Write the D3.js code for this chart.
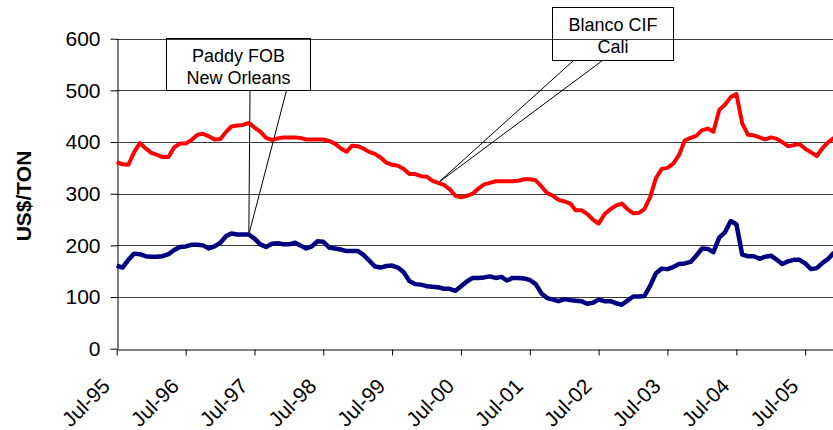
<!DOCTYPE html>
<html>
<head>
<meta charset="utf-8">
<script src="https://cdn.jsdelivr.net/npm/d3@7"></script>
<style>
  html, body { margin: 0; padding: 0; background: #fff; }
  svg { display: block; }
  text { font-family: "Liberation Sans", Arial, sans-serif; fill: #000; }
</style>
</head>
<body>
<svg id="chart" width="833" height="430"></svg>
<script>
// ---- data (monthly, Jul-95 .. Dec-05) ----
const startMonth = "1995-07";
const endMonth = "2005-12";
const blancoCIFCali = [
  361,357,356,380,398,388,379,375,371,371,390,397,
  397,404,414,416,411,405,406,420,430,432,433,437,
  428,420,408,404,407,409,409,409,408,405,405,405,
  405,402,397,388,381,393,392,387,381,377,370,360,
  356,354,348,338,338,334,333,325,321,317,309,296,
  293,296,300,310,318,321,324,324,324,324,325,328,
  328,326,314,301,296,288,285,281,268,268,261,250,
  242,260,270,277,281,270,262,263,270,294,330,348,
  350,358,375,403,408,412,423,426,420,462,472,487,
  493,436,414,413,409,405,409,406,400,392,394,396,
  387,380,373,388,400,408
];
const paddyFOBNewOrleans = [
  161,157,172,184,183,179,178,178,179,183,191,197,
  198,201,201,200,194,198,205,218,223,221,221,221,
  213,202,197,203,204,202,202,205,200,194,198,208,
  207,196,194,192,189,189,189,181,171,159,157,160,
  161,157,148,131,125,124,121,120,119,116,116,112,
  121,130,137,137,138,140,137,139,132,137,137,136,
  133,125,107,98,95,92,96,94,93,92,87,89,
  95,92,92,88,85,93,101,101,102,122,146,155,
  154,158,164,165,168,180,194,193,187,215,225,247,
  241,182,179,179,174,178,180,172,164,169,172,172,
  165,154,156,166,174,186
];
const xTickLabels = ["Jul-95","Jul-96","Jul-97","Jul-98","Jul-99","Jul-00","Jul-01","Jul-02","Jul-03","Jul-04","Jul-05"];
const yTicks = [0,100,200,300,400,500,600];
const seriesNames = ["Paddy FOB|New Orleans", "Blanco CIF|Cali"];
// callout targets: index of month pointed at
const paddyPointIndex = 23;
const blancoPointIndex = 56;

(function () {
// ---- build ----
const parseMonth = d3.timeParse("%Y-%m");
const months = d3.timeMonth.range(parseMonth(startMonth), d3.timeMonth.offset(parseMonth(endMonth), 1));
const parseTick = d3.timeParse("%b-%y");

const svg = d3.select("#chart");
const mLeft = 116.7, mRight = 834, mTop = 38.7, mBottom = 348.7;

const x = d3.scaleTime().domain([months[0], months[months.length - 1]]).range([mLeft, mRight]);
const y = d3.scaleLinear().domain([0, 600]).range([mBottom, mTop]);

// gridlines
svg.append("g").selectAll("line").data(yTicks.filter(d => d > 0)).join("line")
  .attr("x1", mLeft).attr("x2", mRight)
  .attr("y1", d => Math.round(y(d)) + 0.5).attr("y2", d => Math.round(y(d)) + 0.5)
  .attr("stroke", "#3a3a3a").attr("stroke-width", 1);

// y axis
const yAxis = svg.append("g")
  .attr("transform", `translate(${Math.round(mLeft) + 0.5},0)`)
  .call(d3.axisLeft(y).tickValues(yTicks).tickSize(7).tickSizeOuter(0).tickPadding(10));
yAxis.select(".domain").attr("stroke", "#000");
yAxis.selectAll(".tick line").attr("stroke", "#000");
yAxis.selectAll(".tick text")
  .style("font-family", '"Liberation Sans", Arial, sans-serif')
  .style("font-size", "21px").attr("fill", "#000");

// x axis
const xAxis = svg.append("g")
  .attr("transform", `translate(0,${Math.round(mBottom) + 0.5})`)
  .call(d3.axisBottom(x).tickValues(xTickLabels.map(parseTick)).tickSize(6).tickSizeOuter(0)
    .tickFormat(d3.timeFormat("%b-%y")));
xAxis.select(".domain").attr("stroke", "#000");
xAxis.selectAll(".tick line").attr("stroke", "#000");
xAxis.selectAll(".tick text")
  .style("font-family", '"Liberation Sans", Arial, sans-serif')
  .style("font-size", "21px").attr("fill", "#000")
  .attr("text-anchor", "end")
  .attr("x", 0).attr("y", 0).attr("dy", 0)
  .attr("transform", "translate(-6,38) rotate(-45)");

// y label
svg.append("text")
  .attr("transform", "translate(31,196) rotate(-90)")
  .attr("text-anchor", "middle")
  .style("font-size", "21px").style("font-weight", "bold")
  .text("US$/TON");

// callouts
const callouts = svg.append("g").attr("fill", "none").attr("stroke", "#000").attr("stroke-width", 1);
function callout(box, lines, base1, base2, target) {
  callouts.append("rect").attr("x", box[0]).attr("y", box[1]).attr("width", box[2]).attr("height", box[3]);
  callouts.append("line").attr("x1", base1).attr("y1", box[1] + box[3]).attr("x2", target[0]).attr("y2", target[1]);
  callouts.append("line").attr("x1", base2).attr("y1", box[1] + box[3]).attr("x2", target[0]).attr("y2", target[1]);
  lines.forEach((t, i) => {
    svg.append("text").attr("x", box[0] + box[2] / 2).attr("y", box[1] + 23 + i * 22)
      .attr("text-anchor", "middle").style("font-size", "18px").text(t);
  });
}
callout([166.5, 38.5, 144, 52], seriesNames[0].split("|"), 250, 286.5,
  [x(months[paddyPointIndex]), y(paddyFOBNewOrleans[paddyPointIndex])]);
callout([552.5, 7.5, 121, 53], seriesNames[1].split("|"), 573.5, 602.5,
  [x(months[blancoPointIndex]), y(blancoCIFCali[blancoPointIndex])]);

// lines
const line = d3.line().x((d, i) => x(months[i])).y(d => y(d));
svg.append("path").datum(blancoCIFCali).attr("d", line)
  .attr("fill", "none").attr("stroke", "#FF0000").attr("stroke-width", 4).attr("stroke-linejoin", "round");
svg.append("path").datum(paddyFOBNewOrleans).attr("d", line)
  .attr("fill", "none").attr("stroke", "#000080").attr("stroke-width", 4.5).attr("stroke-linejoin", "round");
})();
</script>
</body>
</html>
